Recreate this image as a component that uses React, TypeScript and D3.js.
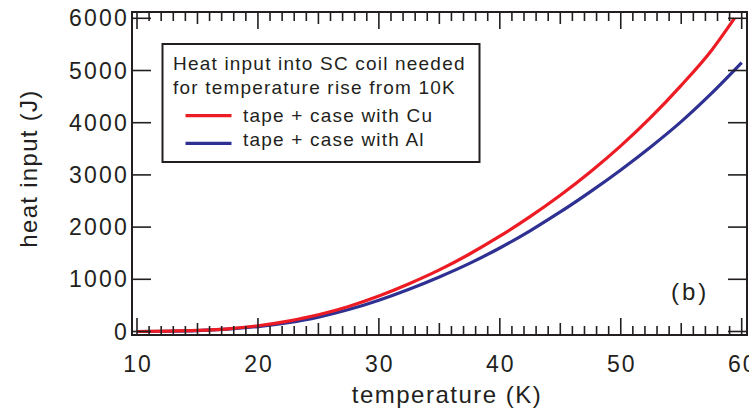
import React from 'react';
import * as d3 from 'd3';

// temperature (K) sample points
const temps = [10, 12.5, 15, 17.5, 20, 22.5, 25, 27.5, 30, 32.5, 35, 37.5, 40, 42.5, 45, 47.5, 50, 52.5, 55, 57.5, 60];
const cuTemps = [10, 12.5, 15, 17.5, 20, 22.5, 25, 27.5, 30, 32.5, 35, 37.5, 40, 42.5, 45, 47.5, 50, 52.5, 55, 57.5, 59.4];
const cuHeat = [0, 6, 20, 50, 110, 200, 320, 480, 680, 915, 1180, 1485, 1825, 2200, 2610, 3060, 3555, 4105, 4715, 5385, 6000];
const alHeat = [0, 5, 18, 45, 95, 170, 275, 420, 600, 810, 1045, 1305, 1600, 1930, 2290, 2680, 3095, 3540, 4020, 4560, 5150];

const xTicks = [10, 20, 30, 40, 50, 60];
const yTicks = [0, 1000, 2000, 3000, 4000, 5000, 6000];
const legendTitle = ['Heat input into SC coil needed', 'for temperature rise from 10K'];
const seriesNames = ['tape + case with Cu', 'tape + case with Al'];

const RED = '#ed1c24';
const BLUE = '#2e3192';
const INK = '#231f20';
const FONT = '"Liberation Sans", Arial, sans-serif';

const W = 749;
const H = 409;
const box = { left: 132, right: 747, top: 12, bottom: 335 };

const App = () => {
  const x = d3.scaleLinear().domain([10, 60]).range([137, 741.7]);
  const y = d3.scaleLinear().domain([0, 6000]).range([331.5, 18.3]);

  const line = d3.line<[number, number]>()
    .x(d => x(d[0]))
    .y(d => y(d[1]))
    .curve(d3.curveMonotoneX);

  const cuPts = cuTemps.map((t, i) => [t, cuHeat[i]] as [number, number]);
  const alPts = temps.map((t, i) => [t, alHeat[i]] as [number, number]);

  const minor = d3.range(10, 61, 1);
  const tickLen = (t: number) => (t % 10 === 0 ? 17 : t % 5 === 0 ? 12 : 9);

  return (
    <svg width={W} height={H} style={{ position: 'absolute', left: 0, top: 0, background: '#fff' }}>
      {/* curves */}
      <path d={line(alPts) || ''} fill="none" stroke={BLUE} strokeWidth={3.2} />
      <path d={line(cuPts) || ''} fill="none" stroke={RED} strokeWidth={3.2} />

      {/* frame */}
      <rect x={box.left} y={box.top} width={box.right - box.left} height={box.bottom - box.top}
        fill="none" stroke={INK} strokeWidth={2} />

      {/* x ticks, top and bottom, pointing inward */}
      {minor.map(t => (
        <g key={'xt' + t} stroke={INK} strokeWidth={1.6}>
          <line x1={x(t)} x2={x(t)} y1={box.bottom} y2={box.bottom - tickLen(t)} />
          <line x1={x(t)} x2={x(t)} y1={box.top} y2={box.top + tickLen(t)} />
        </g>
      ))}

      {/* y ticks, left and right */}
      {yTicks.map(v => (
        <g key={'yt' + v} stroke={INK} strokeWidth={1.6}>
          <line x1={box.left} x2={box.left + 19} y1={y(v)} y2={y(v)} />
          <line x1={box.right} x2={box.right - 19} y1={y(v)} y2={y(v)} />
        </g>
      ))}

      {/* tick labels */}
      {xTicks.map(t => (
        <text key={'xl' + t} x={x(t) + 1} y={372} textAnchor="middle" fontFamily={FONT} fontSize={23}
          letterSpacing={2} fill={INK}>{t}</text>
      ))}
      {yTicks.map(v => (
        <text key={'yl' + v} x={129} y={y(v) + 8} textAnchor="end" fontFamily={FONT} fontSize={23}
          letterSpacing={2.2} fill={INK}>{v}</text>
      ))}

      {/* axis titles */}
      <text x={447} y={403} textAnchor="middle" fontFamily={FONT} fontSize={24} letterSpacing={1.5} fill={INK}>
        temperature (K)
      </text>
      <text transform="translate(37,168.5) rotate(-90)" textAnchor="middle" fontFamily={FONT} fontSize={24}
        letterSpacing={1.3} fill={INK}>
        heat input (J)
      </text>

      {/* legend */}
      <rect x={162.5} y={44} width={317} height={118} fill="#fff" stroke={INK} strokeWidth={2} />
      {legendTitle.map((s, i) => (
        <text key={s} x={173} y={70 + i * 23.5} fontFamily={FONT} fontSize={19} letterSpacing={1.2} fill={INK}>{s}</text>
      ))}
      {seriesNames.map((s, i) => (
        <g key={s}>
          <line x1={185.5} x2={231.5} y1={115.7 + i * 27.6} y2={115.7 + i * 27.6}
            stroke={i === 0 ? RED : BLUE} strokeWidth={3.2} />
          <text x={243} y={122.3 + i * 24} fontFamily={FONT} fontSize={19} letterSpacing={1.2} fill={INK}>{s}</text>
        </g>
      ))}

      <text x={671} y={300} fontFamily={FONT} fontSize={24} letterSpacing={3} fill={INK}>(b)</text>
    </svg>
  );
};

export default App;
